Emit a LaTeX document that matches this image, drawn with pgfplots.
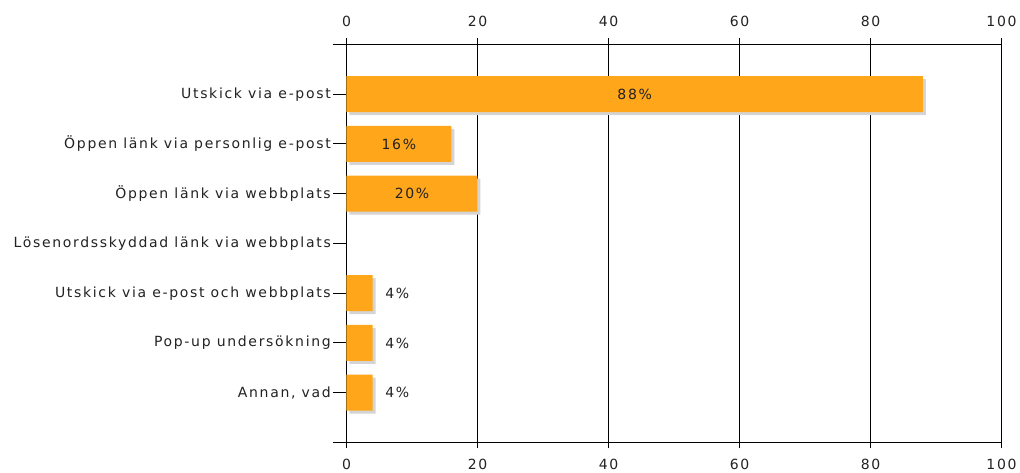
\documentclass[border=0pt]{standalone}
\usepackage{fontspec}
\setmainfont{DejaVu Sans}[LetterSpace=12]
\usepackage{pgfplots}
\pgfplotsset{compat=1.18}
\usepackage{pgfplotstable}

\definecolor{barorange}{RGB}{255,166,26}
\definecolor{txt}{RGB}{34,34,34}

% one row per answer, y=7 is the top row
\pgfplotstableread{
y v
7 88
6 16
5 20
3 4
2 4
1 4
}\bars
\pgfplotstableread{
y v
7 88
6 16
5 20
}\inside
\pgfplotstableread{
y v
3 4
2 4
1 4
}\outside

\begin{document}
\begin{tikzpicture}[font=\fontsize{10.5pt}{12pt}\selectfont]
% top tick labels (drawn first, the main axis goes over it)
\begin{axis}[
  scale only axis, width=491.25pt, height=298.5pt,
  xmin=0, xmax=100, ymin=0, ymax=1,
  axis x line*=top, hide y axis,
  x axis line style={draw=none},
  xtick={0,20,...,100}, xtick style={draw=none},
  xticklabel style={text=txt, yshift=10pt},
  /pgf/number format/assume math mode=true,
]
\end{axis}
\begin{axis}[
  scale only axis, width=491.25pt, height=298.5pt,
  xmin=0, xmax=100, ymin=0, ymax=8,
  xtick={0,20,...,100}, ytick={0,...,8},
  yticklabels={,{Annan, vad},Pop-up undersökning,Utskick via e-post och webbplats,Lösenordsskyddad länk via webbplats,Öppen länk via webbplats,Öppen länk via personlig e-post,Utskick via e-post,},
  ytick pos=left, tick align=outside,
  xtick style={/pgfplots/major tick length=4.5pt, line width=0.75pt, black},
  ytick style={/pgfplots/major tick length=9.75pt, line width=0.75pt, black},
  xmajorgrids, major grid style={line width=0.75pt, black},
  axis line style={line width=0.75pt, black},
  tick label style={text=txt},
  yticklabel style={xshift=-4pt},
  xticklabel style={yshift=-5pt},
  /pgf/number format/assume math mode=true,
]
% shadow first, then the bars over it
\addplot[xbar, bar shift=-2.25pt, bar width=27pt, fill=black!17, draw=none, xshift=2.25pt]
  table[x=v, y=y] {\bars};
\addplot[xbar, bar shift=0pt, bar width=27pt, fill=barorange, draw=none]
  table[x=v, y=y] {\bars};
\addplot[draw=none, mark=none, nodes near coords={\pgfmathprintnumber{\pgfplotspointmeta}\%},
  every node near coord/.style={anchor=center, text=txt}]
  table[x expr=\thisrow{v}/2, y=y, point meta=\thisrow{v}] {\inside};
\addplot[draw=none, mark=none, nodes near coords={\pgfmathprintnumber{\pgfplotspointmeta}\%},
  every node near coord/.style={anchor=west, xshift=6pt, text=txt}]
  table[x=v, y=y, point meta=\thisrow{v}] {\outside};
\end{axis}
\pgfresetboundingbox
\path[use as bounding box] (-259.875pt,-22.875pt) rectangle (505.125pt,331.875pt);
\end{tikzpicture}
\end{document}
